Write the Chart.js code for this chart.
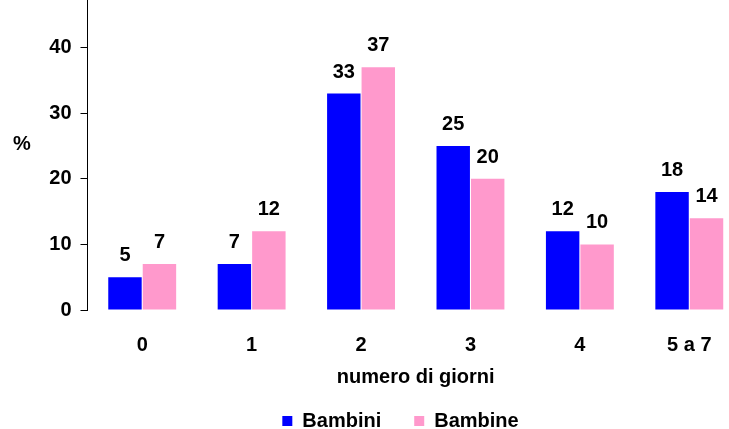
<!DOCTYPE html>
<html>
<head>
<meta charset="utf-8">
<script src="https://cdn.jsdelivr.net/npm/chart.js@4.4.0/dist/chart.umd.min.js"></script>
<style>
	html, body { margin:0; padding:0; width:729px; height:429px; overflow:hidden; background:#fff; }
	#wrap { position:absolute; left:0; top:-39px; width:800px; height:480px; }
</style>
</head>
<body>
<div id="wrap"><canvas id="giorniChart"></canvas></div>
<script>
const categories = ["0", "1", "2", "3", "4", "5 a 7"];
const bambini = [5, 7, 33, 25, 12, 18];
const bambine = [7, 12, 37, 20, 10, 14];
const yTicks = [0, 10, 20, 30, 40, 50];

const fontName = "'Liberation Sans', Arial, sans-serif";
Chart.defaults.color = "#000";
Chart.defaults.font.family = fontName;

// numbers over the bars, the "%" and the axis title
const barLabels = {
	id: "barLabels",
	afterDatasetsDraw(chart){
		let ctx = chart.ctx;
		ctx.save();
		ctx.font = "bold 20px " + fontName;
		ctx.fillStyle = "#000";
		ctx.textAlign = "center";
		ctx.textBaseline = "alphabetic";
		chart.data.datasets.forEach((ds, i) => {
			chart.getDatasetMeta(i).data.forEach((bar, j) => {
				ctx.fillText(ds.data[j], bar.x, bar.y - 16);
			});
		});
		let y = chart.scales.y;
		let a = chart.chartArea;
		ctx.textBaseline = "middle";
		// "%" is horizontal, left of the axis
		ctx.fillText("%", 22, y.getPixelForValue(25.3));
		ctx.fillText("numero di giorni", (a.left + a.right) / 2, a.bottom + 67);
		ctx.restore();
	}
};

// legend is centred a bit right of the plot in the original
const legendShift = {
	id: "legendShift",
	afterLayout(chart){
		chart.legend.right += 57;
		chart.legend.width += 57;
	}
};

let ctx = document.getElementById("giorniChart").getContext("2d");
let giorniGraph = new Chart(ctx, {
	type: "bar",
	data: {
		labels: categories,
		datasets: [{
			label: "Bambini",
			data: bambini,
			backgroundColor: "#0000FF",
			borderWidth: 0
		}, {
			label: "Bambine",
			data: bambine,
			backgroundColor: "#FF99CC",
			borderWidth: 0
		}]
	},
	options: {
		responsive: true,
		maintainAspectRatio: false,
		animation: false,
		layout: { padding: { left: 0, right: 56, top: 0, bottom: 0 } },
		categoryPercentage: 0.63,
		barPercentage: 0.97,
		plugins: {
			tooltip: { enabled: false },
			legend: {
				position: "bottom",
				labels: {
					boxWidth: 10,
					boxHeight: 10,
					padding: 33,
					font: { size: 20, weight: "bold" }
				}
			}
		},
		scales: {
			x: {
				afterFit: s => { s.height = 68; },
				grid: { display: false, drawTicks: false },
				border: { display: false },
				ticks: { padding: 23, font: { size: 20, weight: "bold" } }
			},
			y: {
				min: 0,
				max: 50,
				afterFit: s => { s.width = 87.5; },
				afterBuildTicks: s => { s.ticks = yTicks.map(v => ({ value: v })); },
				border: { display: true, color: "#000", width: 1 },
				grid: { drawOnChartArea: false, color: "#000", tickLength: 7 },
				ticks: { padding: 9, font: { size: 20, weight: "bold" } }
			}
		}
	},
	plugins: [barLabels, legendShift]
});
</script>
</body>
</html>
